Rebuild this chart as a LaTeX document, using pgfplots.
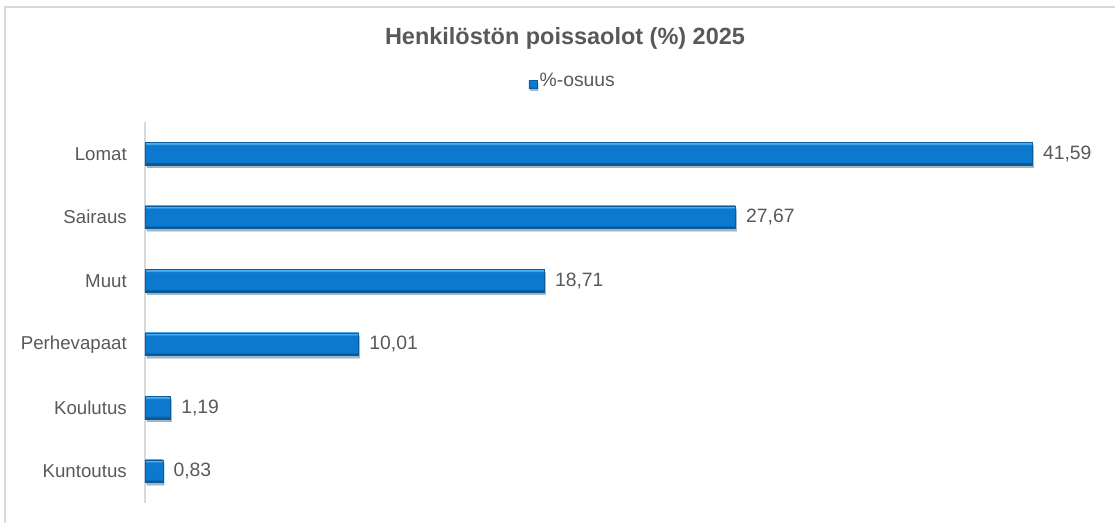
\documentclass[border=0pt]{standalone}
\usepackage{pgfplots}
\pgfplotsset{compat=1.18}
\usepackage{fontspec}
\setmainfont{Liberation Sans}
\definecolor{txt}{HTML}{595959}
\definecolor{frame}{HTML}{D9D9D9}
\definecolor{barmid}{HTML}{0C78CE}
\definecolor{bartop}{HTML}{4CADF0}
\definecolor{barbot}{HTML}{07548F}
\definecolor{baredge}{HTML}{0A5C9C}
\pgfdeclareverticalshading{bevel}{100bp}{color(0bp)=(barbot); color(28bp)=(barbot); color(32bp)=(barmid); color(69bp)=(barmid); color(72bp)=(bartop); color(100bp)=(bartop)}
\begin{document}
\begin{tikzpicture}
\useasboundingbox (0,0) rectangle (836.25pt,392.25pt);
\draw[frame, line width=1.2pt] (3.75pt,-2pt) -- (3.75pt,387pt) -- (840pt,387pt);
\node[font=\bfseries\fontsize{17.6}{20}\selectfont, text=txt, anchor=base] at (423.75pt,358.5pt) {Henkilöstön poissaolot (\%) 2025};
\pgfplotsset{mybar/.style={
  draw=baredge, line width=0.3pt, shading=bevel,
  preaction={draw=none, fill=black, fill opacity=0.2, transform canvas={xshift=1.2pt, yshift=-2pt}},
}}
\begin{axis}[
  at={(108.75pt,15pt)}, anchor=south west,
  scale only axis, width=720pt, height=285.75pt,
  xbar, bar width=17pt, bar shift=0pt,
  xmin=0, xmax=45,
  ymin=-0.5, ymax=5.5, y dir=reverse,
  ytick={0,1,2,3,4,5},
  yticklabels={Lomat,Sairaus,Muut,Perhevapaat,Koulutus,Kuntoutus},
  yticklabel style={font=\fontsize{14}{16}\selectfont, text=txt, inner sep=0pt, xshift=-13.5pt},
  major tick length=0pt,
  xtick=\empty,
  axis x line=none,
  axis y line*=left,
  y axis line style={draw=frame, line width=0.9pt, -},
  /pgf/number format/assume math mode=true,
  nodes near coords,
  nodes near coords style={font=\fontsize{14.5}{16}\selectfont, text=txt, anchor=west, inner sep=0pt, xshift=8pt,
    /pgf/number format/.cd, fixed, fixed zerofill, precision=2, use comma},
  clip=false,
  legend style={at={(0.4459,1.1076)}, anchor=center, draw=none, fill=none,
    font=\fontsize{14.5}{16}\selectfont, text=txt},
  legend cell align=left,
  legend image code/.code={\shade[shading=bevel, draw=baredge, line width=0.3pt] (0.04cm,-0.185cm) rectangle (0.25cm,0.025cm);},
]
\addplot[mybar] coordinates {(41.59,0)};
\addlegendentry{\%-osuus}
\addplot[mybar, forget plot] coordinates {(27.67,1)};
\addplot[mybar, forget plot] coordinates {(18.71,2)};
\addplot[mybar, forget plot] coordinates {(10.01,3)};
\addplot[mybar, forget plot] coordinates {(1.19,4)};
\addplot[mybar, forget plot] coordinates {(0.83,5)};
\end{axis}
\end{tikzpicture}
\end{document}
